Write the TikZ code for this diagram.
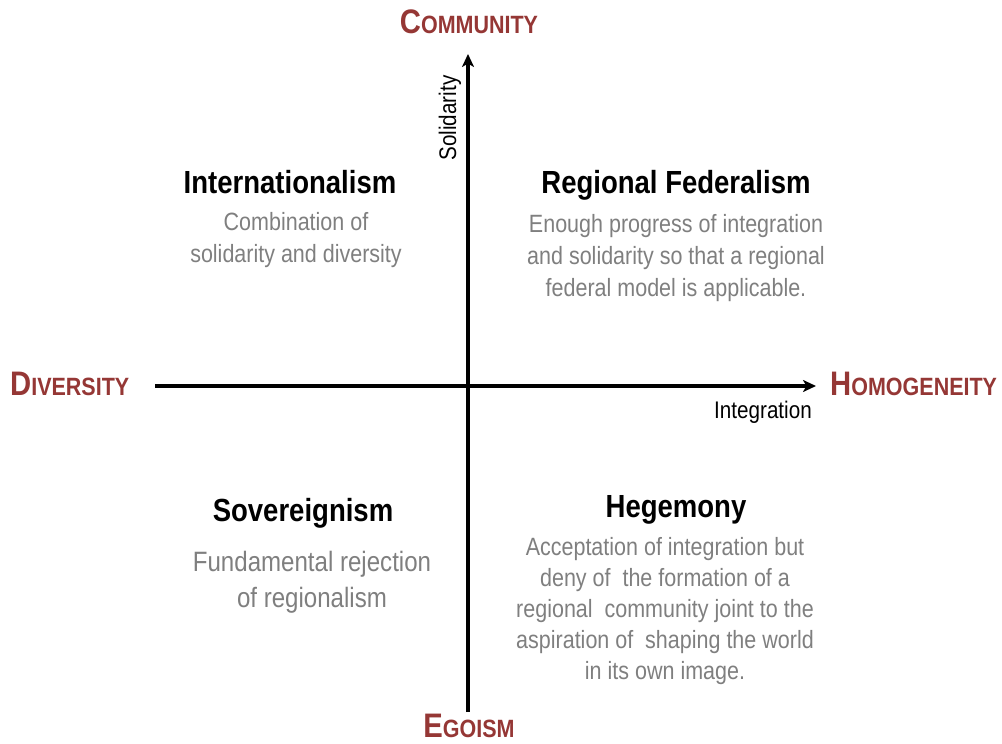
\documentclass[tikz,border=0pt]{standalone}
\usepackage{fontspec}
\setmainfont[FakeStretch=0.86]{Liberation Sans}
\usetikzlibrary{arrows.meta,positioning}
\definecolor{axisred}{RGB}{149,55,53}
\definecolor{notegray}{RGB}{127,127,127}
\newcommand{\polelabel}[2]{{\fontsize{34}{34}\selectfont #1}{\fontsize{25}{25}\selectfont #2}}

\begin{document}
\begin{tikzpicture}[x=1pt,y=-1pt,
    pole/.style={text=axisred,font=\bfseries,inner sep=0pt},
    heading/.style={font=\fontsize{32}{34}\selectfont\bfseries,inner sep=0pt},
    note/.style={text=notegray,align=center,inner sep=0pt,font=\fontsize{25}{32}\selectfont},
    axislabel/.style={font=\fontsize{24}{24}\selectfont,inner sep=0pt},
    axis/.style={line width=3.2pt,-{Stealth[length=13pt,width=12pt,inset=3.5pt]}}]
    \useasboundingbox (0,0) rectangle (1002,744);

    % axes
    \coordinate (west) at (155,386);
    \coordinate (east) at (816,386);
    \coordinate (south) at (468,712);
    \coordinate (north) at (468,54);
    \draw[axis] (west) -- (east);
    \draw[axis] (south) -- (north);

    % poles
    \node[pole,anchor=base] (community) at (469,34) {\polelabel{C}{OMMUNITY}};
    \node[pole,anchor=base] (egoism) at (469,737) {\polelabel{E}{GOISM}};
    \node[pole,anchor=base west] (diversity) at (10,395) {\polelabel{D}{IVERSITY}};
    \node[pole,anchor=base west] (homogeneity) at (830,395) {\polelabel{H}{OMOGENEITY}};

    \node[axislabel,rotate=90] (solidarity) at (450,118) {Solidarity};
    \node[axislabel] (integration) at (763,412) {Integration};

    % quadrants
    \node[heading] (intl) at (290,182) {Internationalism};
    \node[note,anchor=north] (intlnote) at (296,212) {Combination of\\solidarity and diversity};

    \node[heading] (regfed) at (676,185) {Regional Federalism};
    \node[note,anchor=north] (regfednote) at (676,214) {Enough progress of integration\\and solidarity so that a regional\\federal model is applicable.};

    \node[heading] (sov) at (303,513) {Sovereignism};
    \node[note,anchor=north,font=\fontsize{28}{36}\selectfont] (sovnote) at (312,551) {Fundamental rejection\\of regionalism};

    \node[heading] (heg) at (676,510) {Hegemony};
    \node[note,anchor=north,font=\fontsize{25}{31}\selectfont] (hegnote) at (665,537) {Acceptation of integration but\\deny of\ \ the formation of a\\regional\ \ community joint to the\\aspiration of\ \ shaping the world\\in its own image.};
\end{tikzpicture}
\end{document}
